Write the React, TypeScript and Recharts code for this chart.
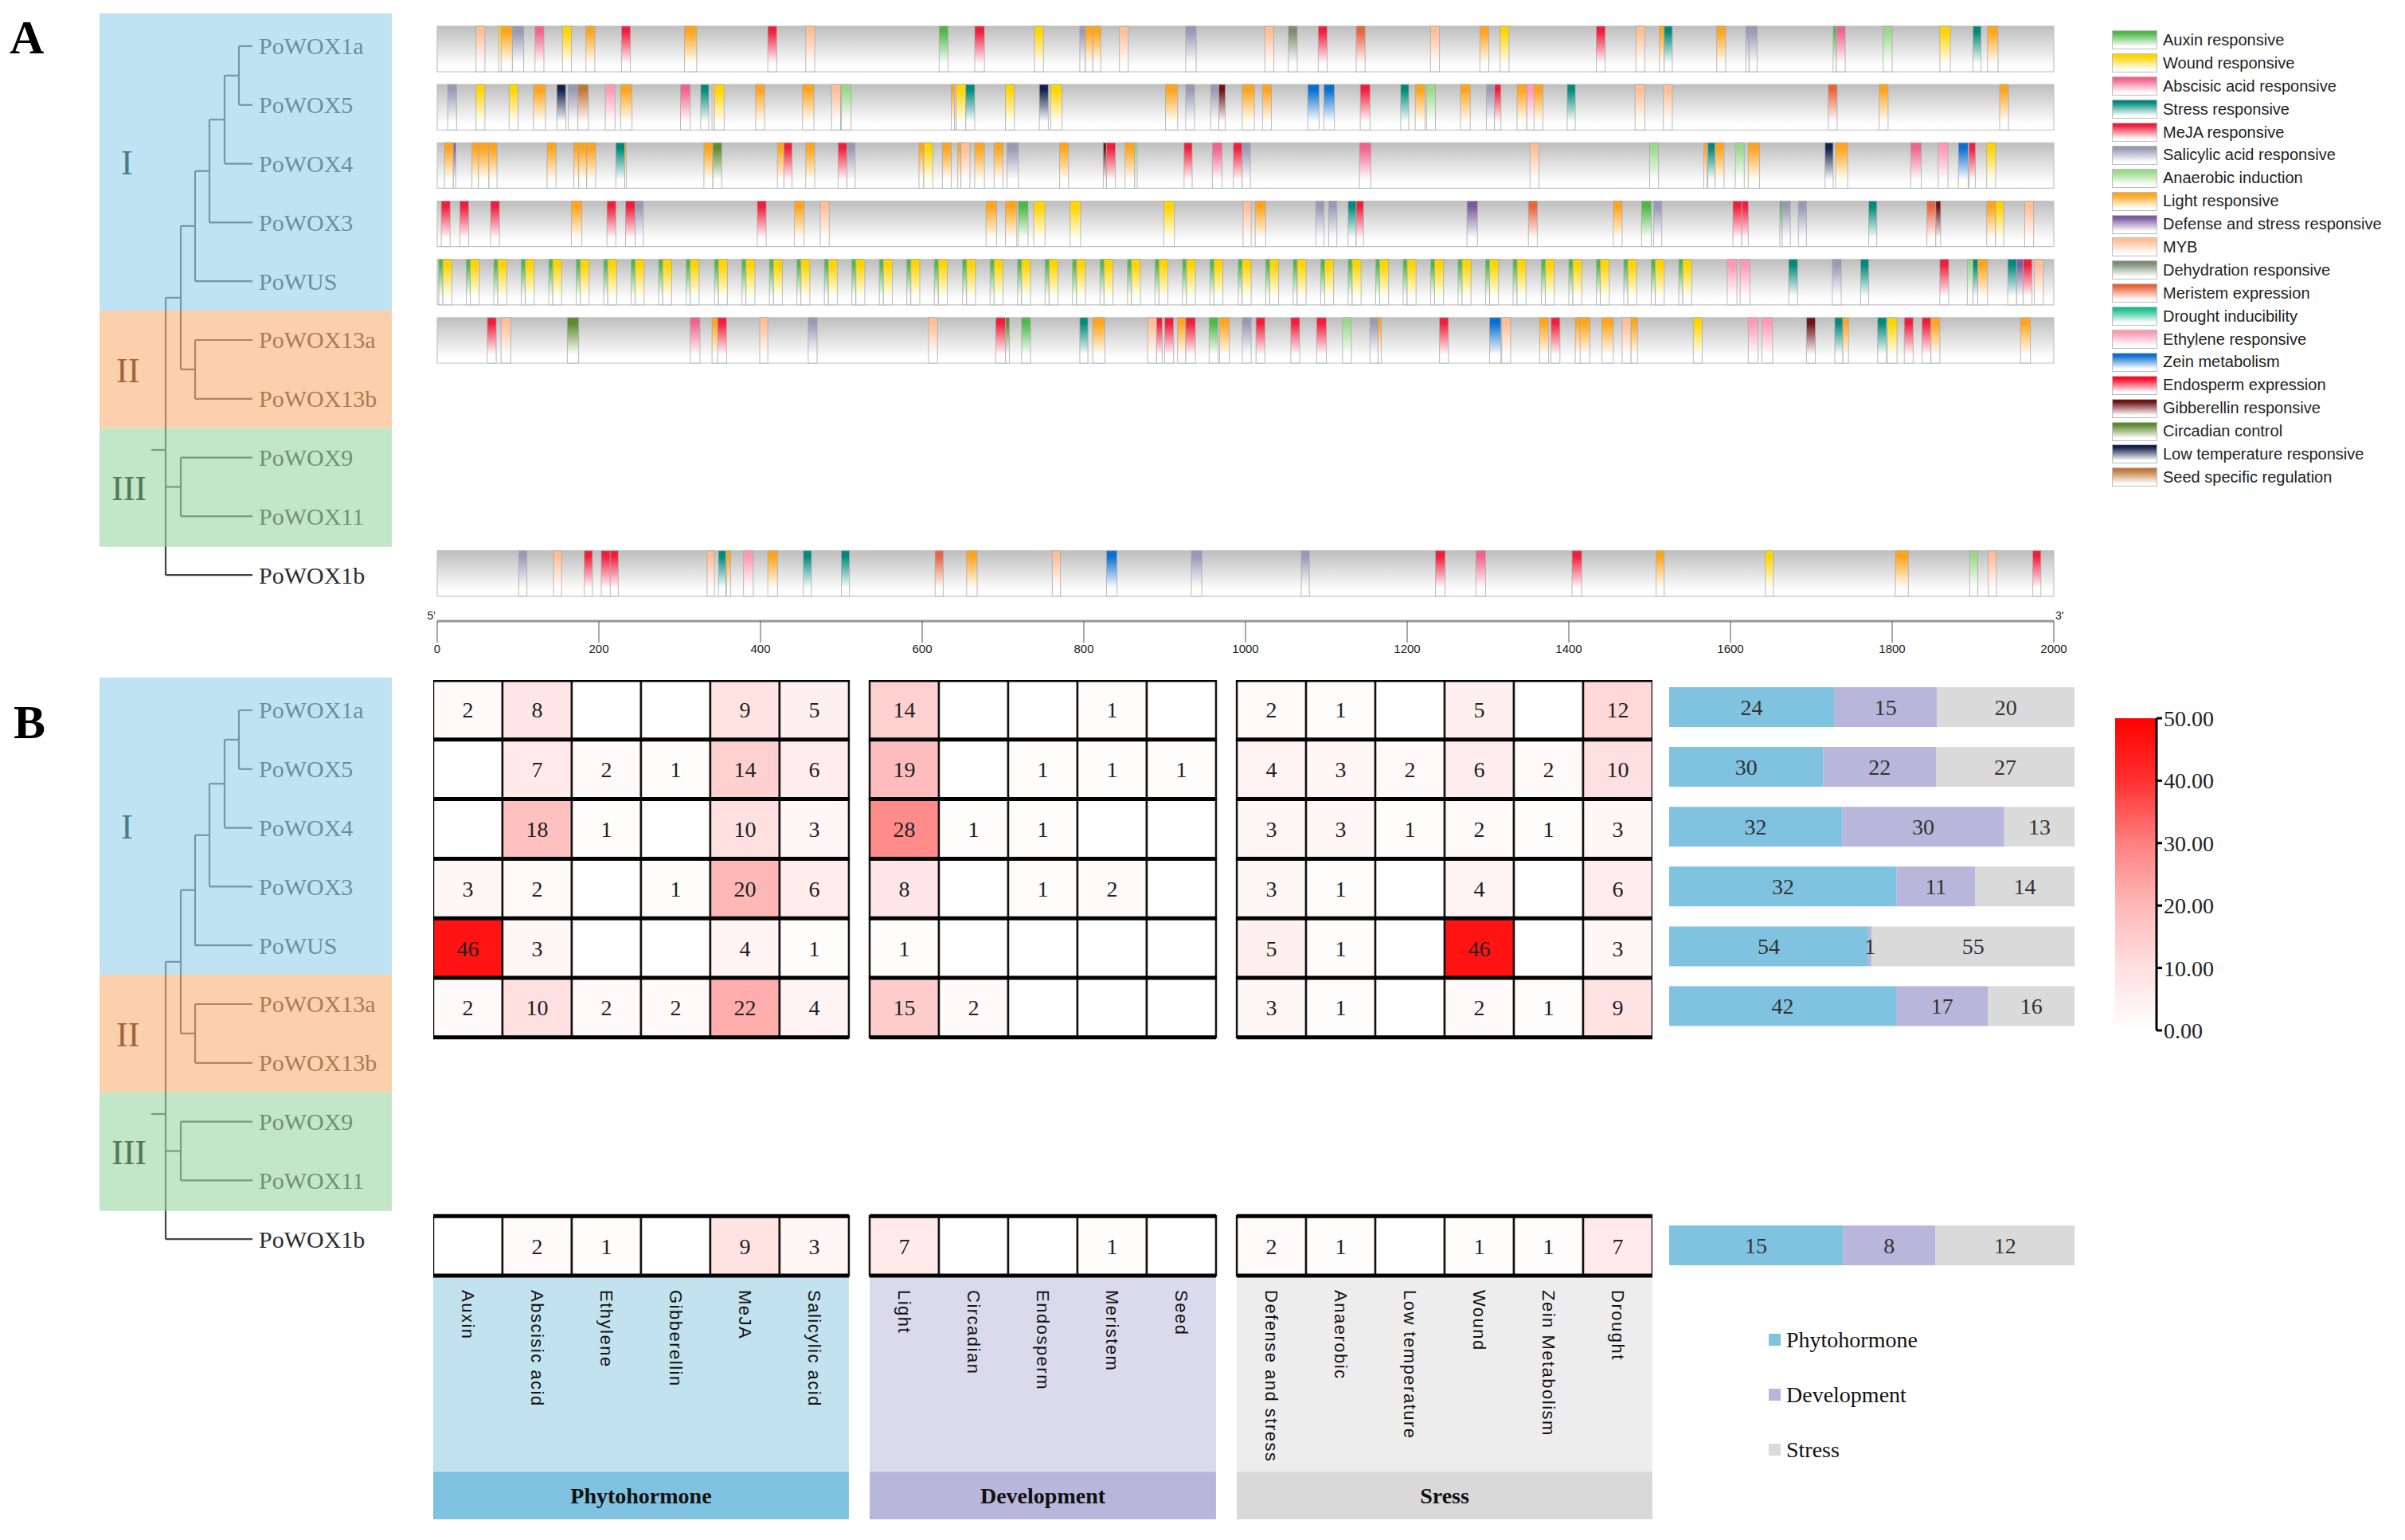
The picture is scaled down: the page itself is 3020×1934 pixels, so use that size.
import React from 'react';
import {
  ComposedChart,
  BarChart,
  Bar,
  XAxis,
  YAxis,
  Scatter,
  ReferenceArea,
  ReferenceLine,
  ReferenceDot,
  LabelList,
  Legend,
} from 'recharts';

const SERIF = '"Liberation Serif", "Times New Roman", serif';
const SANS = '"Liberation Sans", Arial, sans-serif';

// genes in tree order (top to bottom)
const genes = [
  'PoWOX1a', 'PoWOX5', 'PoWOX4', 'PoWOX3', 'PoWUS',
  'PoWOX13a', 'PoWOX13b', 'PoWOX9', 'PoWOX11', 'PoWOX1b',
];

// internal nodes of the tree: depth in px, pos in leaf units
const treeNodes = [
  { id: 'root', parent: '', depth: 208, pos: 6.87 },
  { id: 'c1', parent: 'root', depth: 227, pos: 4.28 },
  { id: 'cI', parent: 'c1', depth: 245, pos: 3.06 },
  { id: 'c3', parent: 'cI', depth: 263, pos: 2.125 },
  { id: 'c4', parent: 'c3', depth: 282, pos: 1.25 },
  { id: 'c5', parent: 'c4', depth: 300, pos: 0.5 },
  { id: 'cII', parent: 'c1', depth: 245, pos: 5.5 },
  { id: 'cIII', parent: 'root', depth: 227, pos: 7.5 },
];
const leafParents = ['c5', 'c5', 'c4', 'c3', 'cI', 'cII', 'cII', 'cIII', 'cIII', 'root'];
const TIP = 317;
const STEM = 190;

const clades = [
  { name: 'I', first: 'PoWOX1a', last: 'PoWUS' },
  { name: 'II', first: 'PoWOX13a', last: 'PoWOX13b' },
  { name: 'III', first: 'PoWOX9', last: 'PoWOX11' },
];
const cladeFill = ['#94D0E9', '#FAB175', '#9BD4A3'];
const cladeText = ['#4A7B8B', '#A4643A', '#4F7B56'];
const cladeOffset = [27, 21, 15];

// cis-acting element legend
const elementTypes = [
  { key: 'auxin', name: 'Auxin responsive', color: '#4DB848' },
  { key: 'wound', name: 'Wound responsive', color: '#FFD400' },
  { key: 'aba', name: 'Abscisic acid responsive', color: '#F0648C' },
  { key: 'stress', name: 'Stress responsive', color: '#00897B' },
  { key: 'meja', name: 'MeJA responsive', color: '#F01E3C' },
  { key: 'sa', name: 'Salicylic acid responsive', color: '#9A98B5' },
  { key: 'anaerobic', name: 'Anaerobic induction', color: '#9AD98C' },
  { key: 'light', name: 'Light responsive', color: '#FFA41C' },
  { key: 'defense', name: 'Defense and stress responsive', color: '#7A5C9E' },
  { key: 'myb', name: 'MYB', color: '#FFBE96' },
  { key: 'dehydration', name: 'Dehydration responsive', color: '#7B8B72' },
  { key: 'meristem', name: 'Meristem expression', color: '#E8643C' },
  { key: 'drought', name: 'Drought inducibility', color: '#1DBE8E' },
  { key: 'ethylene', name: 'Ethylene responsive', color: '#FF9AB4' },
  { key: 'zein', name: 'Zein metabolism', color: '#0A6FD0' },
  { key: 'endosperm', name: 'Endosperm expression', color: '#FF0A28' },
  { key: 'gibberellin', name: 'Gibberellin responsive', color: '#6E1414' },
  { key: 'circadian', name: 'Circadian control', color: '#5E8A2E' },
  { key: 'lowtemp', name: 'Low temperature responsive', color: '#14214A' },
  { key: 'seed', name: 'Seed specific regulation', color: '#C0783A' },
];

// [start bp, type, length bp]
const wox1aElements = [
  [48, 'myb', 11], [76, 'wound', 4], [79, 'light', 14], [93, 'sa', 14], [121, 'aba', 11], [155, 'wound', 11],
  [184, 'light', 11], [228, 'meja', 11], [306, 'light', 15], [409, 'meja', 11], [456, 'myb', 11], [621, 'auxin', 11],
  [665, 'meja', 12], [739, 'wound', 11], [795, 'sa', 7], [802, 'light', 9], [811, 'light', 10], [844, 'myb', 11],
  [926, 'sa', 13], [1024, 'myb', 11], [1053, 'dehydration', 11], [1090, 'meja', 11], [1137, 'meristem', 11],
  [1229, 'myb', 11], [1290, 'light', 11], [1315, 'wound', 11], [1434, 'meja', 11], [1483, 'myb', 11],
  [1512, 'light', 6], [1518, 'stress', 10], [1583, 'light', 11], [1619, 'sa', 4], [1623, 'sa', 10],
  [1727, 'auxin', 4], [1731, 'aba', 11], [1789, 'anaerobic', 11], [1859, 'wound', 13], [1900, 'stress', 10],
  [1918, 'light', 13],
];
const wox5Elements = [
  [13, 'sa', 11], [48, 'wound', 11], [89, 'wound', 11], [119, 'light', 15], [148, 'lowtemp', 11], [162, 'sa', 12],
  [174, 'seed', 13], [208, 'ethylene', 12], [227, 'light', 14], [301, 'aba', 12], [326, 'stress', 10], [340, 'myb', 3],
  [343, 'wound', 12], [394, 'light', 11], [452, 'light', 14], [488, 'myb', 11], [500, 'anaerobic', 12],
  [636, 'light', 4], [640, 'myb', 2], [642, 'wound', 12], [654, 'stress', 11], [703, 'wound', 11],
  [745, 'lowtemp', 11], [759, 'wound', 14], [901, 'light', 15], [926, 'sa', 11], [957, 'sa', 10],
  [967, 'gibberellin', 8], [996, 'light', 15], [1021, 'light', 11], [1077, 'zein', 14], [1097, 'zein', 13],
  [1142, 'meja', 12], [1192, 'stress', 10], [1210, 'light', 12], [1224, 'anaerobic', 11], [1266, 'light', 12],
  [1298, 'sa', 10], [1308, 'meja', 8], [1336, 'light', 12], [1348, 'ethylene', 11], [1357, 'light', 11],
  [1398, 'stress', 10], [1482, 'myb', 12], [1517, 'myb', 11], [1721, 'meristem', 11], [1784, 'light', 11],
  [1933, 'light', 11],
];
const wox4Elements = [
  [9, 'light', 11], [20, 'defense', 3], [43, 'light', 8], [51, 'light', 13], [64, 'light', 10], [136, 'light', 11],
  [169, 'light', 6], [175, 'light', 10], [185, 'light', 11], [221, 'stress', 11], [232, 'light', 2],
  [330, 'light', 11], [341, 'circadian', 11], [421, 'light', 8], [429, 'meja', 10], [456, 'light', 11],
  [496, 'meja', 11], [507, 'sa', 10], [596, 'light', 6], [602, 'wound', 11], [625, 'light', 11], [644, 'light', 4],
  [648, 'myb', 11], [665, 'light', 12], [689, 'light', 11], [705, 'sa', 14], [770, 'light', 11],
  [824, 'gibberellin', 4], [828, 'meja', 11], [851, 'light', 12], [863, 'anaerobic', 3], [924, 'meja', 10],
  [959, 'aba', 12], [985, 'meja', 11], [996, 'sa', 10], [1141, 'aba', 14], [1352, 'myb', 11],
  [1500, 'anaerobic', 11], [1567, 'light', 4], [1572, 'stress', 9], [1581, 'light', 11], [1606, 'anaerobic', 11],
  [1622, 'light', 14], [1717, 'lowtemp', 10], [1730, 'light', 15], [1823, 'aba', 13], [1857, 'ethylene', 12],
  [1882, 'zein', 12], [1895, 'meja', 8], [1917, 'wound', 11],
];
const wox3Elements = [
  [5, 'meja', 11], [28, 'meja', 11], [66, 'meja', 11], [166, 'light', 13], [210, 'meja', 11], [233, 'meja', 12],
  [245, 'sa', 10], [396, 'meja', 11], [442, 'light', 12], [474, 'myb', 11], [679, 'light', 13], [703, 'light', 14],
  [719, 'auxin', 12], [738, 'wound', 14], [783, 'wound', 13], [899, 'wound', 13], [997, 'myb', 10],
  [1012, 'light', 13], [1087, 'sa', 10], [1103, 'sa', 10], [1127, 'stress', 10], [1137, 'meja', 9],
  [1274, 'defense', 13], [1350, 'meristem', 11], [1455, 'light', 11], [1490, 'auxin', 12], [1505, 'sa', 10],
  [1603, 'meja', 11], [1614, 'meja', 8], [1661, 'auxin', 3], [1664, 'sa', 10], [1684, 'sa', 10],
  [1771, 'stress', 10], [1843, 'meristem', 11], [1854, 'gibberellin', 6], [1917, 'light', 11], [1928, 'wound', 10],
  [1964, 'myb', 11],
];
// PoWUS: repeated auxin + wound motif pairs, then the 3' end elements
const wusPairStarts = [
  2, 36, 70, 104, 138, 172, 206, 240, 274, 308, 343, 377, 411, 445, 479, 513, 547, 581, 615, 650,
  684, 718, 752, 786, 820, 854, 888, 922, 956, 991, 1025, 1059, 1093, 1127, 1161, 1195, 1229, 1263,
  1297, 1331, 1366, 1400, 1434, 1468, 1502, 1536,
];
const wusTailElements = [
  [1596, 'ethylene', 12], [1612, 'ethylene', 12], [1672, 'stress', 11], [1726, 'sa', 11], [1761, 'stress', 10],
  [1859, 'meja', 11], [1893, 'anaerobic', 7], [1900, 'stress', 6], [1906, 'light', 12], [1943, 'stress', 11],
  [1954, 'defense', 8], [1962, 'meja', 11], [1976, 'myb', 11],
];
const wox13aElements = [
  [62, 'meja', 11], [79, 'myb', 12], [161, 'circadian', 14], [313, 'aba', 12], [340, 'light', 8], [347, 'meja', 11],
  [399, 'myb', 10], [459, 'sa', 11], [608, 'myb', 11], [691, 'meja', 12], [703, 'circadian', 5], [723, 'auxin', 11],
  [795, 'stress', 10], [811, 'light', 15], [879, 'myb', 11], [890, 'meja', 7], [900, 'meja', 11], [916, 'light', 10],
  [926, 'meja', 12], [955, 'auxin', 11], [968, 'light', 12], [996, 'sa', 11], [1013, 'meja', 11], [1056, 'meja', 11],
  [1088, 'meja', 12], [1120, 'anaerobic', 11], [1154, 'sa', 10], [1164, 'light', 4], [1240, 'meja', 11],
  [1302, 'zein', 14], [1317, 'myb', 11], [1364, 'light', 11], [1378, 'meja', 11], [1408, 'light', 7],
  [1414, 'light', 12], [1441, 'light', 14], [1466, 'myb', 11], [1477, 'light', 8], [1554, 'wound', 11],
  [1622, 'ethylene', 12], [1639, 'ethylene', 13], [1694, 'gibberellin', 11], [1729, 'stress', 10],
  [1739, 'light', 7], [1782, 'stress', 11], [1794, 'wound', 12], [1815, 'meja', 11], [1837, 'meja', 11],
  [1848, 'light', 11], [1959, 'light', 12],
];
const wox1bElements = [
  [101, 'sa', 10], [144, 'myb', 10], [182, 'meja', 10], [203, 'meja', 12], [214, 'meja', 10], [334, 'myb', 9],
  [348, 'stress', 9], [358, 'light', 5], [379, 'ethylene', 12], [409, 'light', 12], [453, 'stress', 10],
  [500, 'stress', 10], [616, 'meristem', 10], [655, 'light', 13], [761, 'myb', 10], [828, 'zein', 13],
  [933, 'sa', 13], [1069, 'sa', 10], [1235, 'meja', 12], [1285, 'aba', 12], [1404, 'meja', 12],
  [1508, 'light', 10], [1643, 'wound', 10], [1804, 'light', 16], [1896, 'anaerobic', 10], [1919, 'myb', 10],
  [1974, 'meja', 10],
];

const wusElements = [
  ...wusPairStarts.flatMap((p) => [[p, 'auxin', 5], [p + 5, 'wound', 11]]),
  ...wusTailElements,
];

const promoterRows = [
  { gene: 'PoWOX1a', elements: wox1aElements },
  { gene: 'PoWOX5', elements: wox5Elements },
  { gene: 'PoWOX4', elements: wox4Elements },
  { gene: 'PoWOX3', elements: wox3Elements },
  { gene: 'PoWUS', elements: wusElements },
  { gene: 'PoWOX13a', elements: wox13aElements },
  { gene: 'PoWOX1b', elements: wox1bElements },
];
const PROMOTER_LEN = 2000;
const promoterTicks = [0, 200, 400, 600, 800, 1000, 1200, 1400, 1600, 1800, 2000];

// heatmap counts
const heatGenes = ['PoWOX1a', 'PoWOX5', 'PoWOX4', 'PoWOX3', 'PoWUS', 'PoWOX13a', 'PoWOX1b'];
const phytoCols = ['Auxin', 'Abscisic acid', 'Ethylene', 'Gibberellin', 'MeJA', 'Salicylic acid'];
const devCols = ['Light', 'Circadian', 'Endosperm', 'Meristem', 'Seed'];
const stressCols = ['Defense and stress', 'Anaerobic', 'Low temperature', 'Wound', 'Zein Metabolism', 'Drought'];
const phytoCounts = [
  [2, 8, 0, 0, 9, 5], [0, 7, 2, 1, 14, 6], [0, 18, 1, 0, 10, 3], [3, 2, 0, 1, 20, 6],
  [46, 3, 0, 0, 4, 1], [2, 10, 2, 2, 22, 4], [0, 2, 1, 0, 9, 3],
];
const devCounts = [
  [14, 0, 0, 1, 0], [19, 0, 1, 1, 1], [28, 1, 1, 0, 0], [8, 0, 1, 2, 0],
  [1, 0, 0, 0, 0], [15, 2, 0, 0, 0], [7, 0, 0, 1, 0],
];
const stressCounts = [
  [2, 1, 0, 5, 0, 12], [4, 3, 2, 6, 2, 10], [3, 3, 1, 2, 1, 3], [3, 1, 0, 4, 0, 6],
  [5, 1, 0, 46, 0, 3], [3, 1, 0, 2, 1, 9], [2, 1, 0, 1, 1, 7],
];
const scaleTicks = [0, 10, 20, 30, 40, 50];
const legendOrder = ['Phytohormone', 'Development', 'Stress'];

const heatGroups = [
  { title: 'Phytohormone', cols: phytoCols, counts: phytoCounts },
  { title: 'Development', cols: devCols, counts: devCounts },
  { title: 'Sress', cols: stressCols, counts: stressCounts },
];
const groupStart = [0, 6.3, 11.6];
const groupLight = ['#C2E2EF', '#DBDAEC', '#EDEDED'];
const groupDark = ['#7FC3E0', '#B8B6DA', '#D9D9D9'];

// white -> red colour ramp (green/blue channel)
const rampStops = [[0, 255], [10, 224], [20, 184], [30, 128], [40, 48], [50, 0]];
const heatColor = (v: number) => {
  for (let i = 1; i < rampStops.length; i++) {
    const [v0, c0] = rampStops[i - 1];
    const [v1, c1] = rampStops[i];
    if (v <= v1) {
      const c = Math.round(c0 + ((v - v0) / (v1 - v0)) * (c1 - c0));
      return `rgb(255,${c},${c})`;
    }
  }
  return 'rgb(255,0,0)';
};

const sum = (a: number[]) => a.reduce((s, v) => s + v, 0);

const stackData = genes.map((g) => {
  const i = heatGenes.indexOf(g);
  if (i < 0) return { gene: g };
  return {
    gene: g,
    phyto: sum(phytoCounts[i]),
    dev: sum(devCounts[i]),
    stress: sum(stressCounts[i]),
  };
});

// ---------- tree ----------
const TREE_DOMAIN = [-0.745, 9.783];

const LeafLabel = (props: any) => (
  <text
    x={props.cx + 8}
    y={props.cy}
    dominantBaseline="central"
    fontSize={30}
    fontFamily={SERIF}
    fill="#2c2c2c"
  >
    {props.payload.gene}
  </text>
);

const Tree = ({ top }: { top: number }) => {
  const byId: Record<string, any> = {};
  treeNodes.forEach((n) => (byId[n.id] = n));
  const leaves = genes.map((g, i) => ({ gene: g, x: TIP, y: i, parent: leafParents[i] }));
  const segs: any[] = [];
  treeNodes.forEach((n) => {
    if (n.parent) segs.push([{ x: byId[n.parent].depth, y: n.pos }, { x: n.depth, y: n.pos }]);
    const kids = [
      ...treeNodes.filter((c) => c.parent === n.id).map((c) => c.pos),
      ...leaves.filter((l) => l.parent === n.id).map((l) => l.y),
    ];
    segs.push([{ x: n.depth, y: Math.min(...kids) }, { x: n.depth, y: Math.max(...kids) }]);
  });
  leaves.forEach((l) => segs.push([{ x: byId[l.parent].depth, y: l.y }, { x: TIP, y: l.y }]));
  segs.push([{ x: STEM, y: byId.root.pos }, { x: byId.root.depth, y: byId.root.pos }]);

  const axes = (
    <>
      <XAxis type="number" dataKey="x" domain={[0, 540]} hide allowDataOverflow />
      <YAxis type="number" dataKey="y" domain={TREE_DOMAIN} reversed hide allowDataOverflow />
    </>
  );

  return (
    <>
      <div style={{ position: 'absolute', left: 0, top }}>
        <ComposedChart width={540} height={777} margin={{ top: 0, right: 0, bottom: 0, left: 0 }}>
          {axes}
          {segs.map((s, i) => (
            <ReferenceLine key={i} segment={s} stroke="#444" strokeWidth={2.2} ifOverflow="visible" />
          ))}
          <Scatter data={leaves} shape={LeafLabel} isAnimationActive={false} />
        </ComposedChart>
      </div>
      <div style={{ position: 'absolute', left: 0, top }}>
        <ComposedChart width={540} height={777} margin={{ top: 0, right: 0, bottom: 0, left: 0 }}>
          {axes}
          {clades.map((c, ci) => (
            <ReferenceArea
              key={c.name}
              x1={125}
              x2={492}
              y1={genes.indexOf(c.first) - 0.5 - (ci === 0 ? 0.06 : 0)}
              y2={genes.indexOf(c.last) + 0.5 + (ci === clades.length - 1 ? 0.02 : 0)}
              fill={cladeFill[ci]}
              fillOpacity={0.6}
              stroke="none"
              ifOverflow="visible"
              label={{
                value: c.name,
                position: 'insideLeft',
                offset: cladeOffset[ci],
                fontSize: 44,
                fontFamily: SERIF,
                fill: cladeText[ci],
              }}
            />
          ))}
        </ComposedChart>
      </div>
    </>
  );
};

// ---------- legends ----------
const ElementLegend = () => (
  <div>
    {elementTypes.map((t) => (
      <div key={t.key} style={{ display: 'flex', alignItems: 'center', height: 28.9 }}>
        <div
          style={{
            width: 55,
            height: 22,
            flex: 'none',
            border: '1px solid #BDBDBD',
            background: `linear-gradient(to bottom, ${t.color} 0%, ${t.color} 12%, #ffffff 88%)`,
          }}
        />
        <span style={{ marginLeft: 7, fontFamily: SANS, fontSize: 20, color: '#222', whiteSpace: 'nowrap' }}>
          {t.name}
        </span>
      </div>
    ))}
  </div>
);

const StackLegend = (props: any) => {
  const items = (props.payload || [])
    .slice()
    .sort((a: any, b: any) => legendOrder.indexOf(a.value) - legendOrder.indexOf(b.value));
  return (
    <div>
      {items.map((p: any) => (
        <div key={p.value} style={{ display: 'flex', alignItems: 'center', height: 69 }}>
          <span style={{ width: 15, height: 15, background: p.color, display: 'inline-block', flex: 'none' }} />
          <span style={{ marginLeft: 7, fontFamily: SERIF, fontSize: 28, color: '#111', whiteSpace: 'nowrap' }}>
            {p.value}
          </span>
        </div>
      ))}
    </div>
  );
};

const ColumnLabel = (props: any) => (
  <text
    x={props.cx}
    y={props.cy}
    transform={`rotate(90 ${props.cx} ${props.cy})`}
    textAnchor="start"
    dominantBaseline="central"
    fontSize={22}
    letterSpacing={1.5}
    fontFamily={SANS}
    fill="#111"
  >
    {props.payload.name}
  </text>
);

const ROW_H = 0.78;

const App = () => {
  const rowOf = (g: string) => genes.indexOf(g);

  const colLabels: any[] = [];
  heatGroups.forEach((grp, gi) =>
    grp.cols.forEach((c, j) => colLabels.push({ x: groupStart[gi] + j + 0.5, y: 10.24, name: c })),
  );

  const heatRows = heatGenes.map(rowOf);
  const hLines: number[] = [];
  heatRows.forEach((r) => {
    if (!hLines.includes(r)) hLines.push(r);
    if (!hLines.includes(r + 1)) hLines.push(r + 1);
  });

  return (
    <div
      style={{
        position: 'absolute',
        left: 0,
        top: 0,
        width: 3020,
        height: 1934,
        background: '#fff',
        overflow: 'hidden',
      }}
    >
      <div style={{ position: 'absolute', left: 12, top: 17, fontFamily: SERIF, fontWeight: 'bold', fontSize: 60, lineHeight: '60px' }}>
        A
      </div>
      <div style={{ position: 'absolute', left: 17, top: 877, fontFamily: SERIF, fontWeight: 'bold', fontSize: 60, lineHeight: '60px' }}>
        B
      </div>

      <Tree top={3} />
      <Tree top={837} />

      {/* A: promoter elements */}
      <div style={{ position: 'absolute', left: 0, top: 0 }}>
        <ComposedChart width={3020} height={840} margin={{ top: 3, right: 441, bottom: 0, left: 549 }}>
          <defs>
            <linearGradient id="pbar" x1="0" y1="0" x2="0" y2="1">
              <stop offset="0" stopColor="#BEBEBE" />
              <stop offset="0.88" stopColor="#FFFFFF" />
            </linearGradient>
            {elementTypes.map((t) => (
              <linearGradient key={t.key} id={`el-${t.key}`} x1="0" y1="0" x2="0" y2="1">
                <stop offset="0" stopColor={t.color} />
                <stop offset="0.12" stopColor={t.color} />
                <stop offset="0.82" stopColor="#FFFFFF" />
              </linearGradient>
            ))}
          </defs>
          <XAxis
            type="number"
            dataKey="x"
            domain={[0, PROMOTER_LEN]}
            ticks={promoterTicks}
            interval={0}
            allowDataOverflow
            height={60}
            tickSize={27}
            axisLine={{ stroke: '#9a9a9a', strokeWidth: 3 }}
            tickLine={{ stroke: '#555' }}
            tick={{ fontSize: 15, fill: '#222', fontFamily: SANS }}
          />
          <YAxis type="number" dataKey="y" domain={[-0.799, 9.816]} reversed hide allowDataOverflow />
          {promoterRows.map((r) => (
            <ReferenceArea
              key={`bg-${r.gene}`}
              x1={0}
              x2={PROMOTER_LEN}
              y1={rowOf(r.gene) - ROW_H / 2}
              y2={rowOf(r.gene) + ROW_H / 2}
              fill="url(#pbar)"
              fillOpacity={1}
              stroke="#C4C4C4"
              strokeWidth={1.2}
              ifOverflow="visible"
            />
          ))}
          {promoterRows.flatMap((r) =>
            r.elements.map((e: any, i: number) => (
              <ReferenceArea
                key={`${r.gene}-${i}`}
                x1={e[0]}
                x2={e[0] + e[2]}
                y1={rowOf(r.gene) - ROW_H / 2}
                y2={rowOf(r.gene) + ROW_H / 2}
                fill={`url(#el-${e[1]})`}
                fillOpacity={1}
                stroke="#A8A8A8"
                strokeWidth={0.8}
                ifOverflow="visible"
              />
            )),
          )}
          <ReferenceDot
            x={0}
            y={9.72}
            r={0}
            fill="none"
            stroke="none"
            ifOverflow="visible"
            label={{ value: "5'", position: 'left', offset: 2, fontSize: 14, fill: '#222', fontFamily: SANS }}
          />
          <ReferenceDot
            x={PROMOTER_LEN}
            y={9.72}
            r={0}
            fill="none"
            stroke="none"
            ifOverflow="visible"
            label={{ value: "3'", position: 'right', offset: 2, fontSize: 14, fill: '#222', fontFamily: SANS }}
          />
          <Legend
            layout="vertical"
            align="right"
            verticalAlign="top"
            content={() => <ElementLegend />}
            wrapperStyle={{ left: 2652, top: 36, width: 0, right: 'auto', bottom: 'auto' }}
          />
        </ComposedChart>
      </div>

      {/* B: heatmap */}
      <div style={{ position: 'absolute', left: 544, top: 854 }}>
        <ComposedChart width={1531} height={1054} margin={{ top: 0, right: 0, bottom: 0, left: 0 }}>
          <XAxis type="number" dataKey="x" domain={[0, 17.6]} hide allowDataOverflow />
          <YAxis type="number" dataKey="y" domain={[0, 14.09]} reversed hide allowDataOverflow />
          {heatGroups.map((grp, gi) => (
            <ReferenceArea
              key={`light-${gi}`}
              x1={groupStart[gi]}
              x2={groupStart[gi] + grp.cols.length}
              y1={10}
              y2={13.29}
              fill={groupLight[gi]}
              fillOpacity={1}
              stroke="none"
              ifOverflow="visible"
            />
          ))}
          {heatGroups.map((grp, gi) => (
            <ReferenceArea
              key={`dark-${gi}`}
              x1={groupStart[gi]}
              x2={groupStart[gi] + grp.cols.length}
              y1={13.29}
              y2={14.09}
              fill={groupDark[gi]}
              fillOpacity={1}
              stroke="none"
              ifOverflow="visible"
              label={{
                value: grp.title,
                position: 'center',
                fontSize: 28,
                fontWeight: 'bold',
                fontFamily: SERIF,
                fill: '#111',
              }}
            />
          ))}
          {heatGroups.flatMap((grp, gi) =>
            grp.counts.flatMap((row, ri) =>
              row.map((v, j) => (
                <ReferenceArea
                  key={`c-${gi}-${ri}-${j}`}
                  x1={groupStart[gi] + j}
                  x2={groupStart[gi] + j + 1}
                  y1={heatRows[ri]}
                  y2={heatRows[ri] + 1}
                  fill={heatColor(v)}
                  fillOpacity={1}
                  stroke="#111"
                  strokeWidth={2.5}
                  ifOverflow="visible"
                  label={
                    v
                      ? { value: String(v), position: 'center', fontSize: 28, fontFamily: SERIF, fill: '#222' }
                      : undefined
                  }
                />
              )),
            ),
          )}
          {heatGroups.flatMap((grp, gi) =>
            hLines.map((y) => (
              <ReferenceLine
                key={`h-${gi}-${y}`}
                segment={[
                  { x: groupStart[gi], y },
                  { x: groupStart[gi] + grp.cols.length, y },
                ]}
                stroke="#000"
                strokeWidth={5}
                ifOverflow="visible"
              />
            )),
          )}
          <Scatter data={colLabels} shape={ColumnLabel} isAnimationActive={false} />
        </ComposedChart>
      </div>

      {/* B: stacked proportions */}
      <div style={{ position: 'absolute', left: 2096, top: 850 }}>
        <BarChart
          width={509}
          height={751}
          data={stackData}
          layout="vertical"
          stackOffset="expand"
          barSize={50}
          margin={{ top: 0, right: 0, bottom: 0, left: 0 }}
        >
          <XAxis type="number" domain={[0, 1]} hide />
          <YAxis type="category" dataKey="gene" hide />
          <Bar dataKey="phyto" name="Phytohormone" stackId="s" fill="#7FC3E0" isAnimationActive={false}>
            <LabelList dataKey="phyto" position="center" fontSize={28} fontFamily={SERIF} fill="#333" formatter={(v: any) => (v ? v : '')} />
          </Bar>
          <Bar dataKey="dev" name="Development" stackId="s" fill="#B8B6DA" isAnimationActive={false}>
            <LabelList dataKey="dev" position="center" fontSize={28} fontFamily={SERIF} fill="#333" formatter={(v: any) => (v ? v : '')} />
          </Bar>
          <Bar dataKey="stress" name="Stress" stackId="s" fill="#DADADA" isAnimationActive={false}>
            <LabelList dataKey="stress" position="center" fontSize={28} fontFamily={SERIF} fill="#333" formatter={(v: any) => (v ? v : '')} />
          </Bar>
          <Legend
            layout="vertical"
            align="right"
            verticalAlign="top"
            content={StackLegend}
            wrapperStyle={{ left: 125, top: 798, width: 0, right: 'auto', bottom: 'auto' }}
          />
        </BarChart>
      </div>

      {/* B: colour scale */}
      <div style={{ position: 'absolute', left: 2656, top: 872 }}>
        <ComposedChart width={170} height={450} margin={{ top: 30, right: 0, bottom: 28, left: 0 }}>
          <defs>
            <linearGradient id="heatScale" x1="0" y1="0" x2="0" y2="1">
              {rampStops
                .slice()
                .reverse()
                .map(([v, c]) => (
                  <stop key={v} offset={1 - v / 50} stopColor={`rgb(255,${c},${c})`} />
                ))}
            </linearGradient>
          </defs>
          <XAxis type="number" dataKey="x" domain={[0, 1]} hide allowDataOverflow />
          <YAxis
            type="number"
            dataKey="y"
            orientation="right"
            width={118}
            domain={[0, 50]}
            ticks={scaleTicks}
            interval={0}
            allowDataOverflow
            tickFormatter={(v: number) => v.toFixed(2)}
            axisLine={{ stroke: '#000', strokeWidth: 3 }}
            tickLine={{ stroke: '#000', strokeWidth: 3 }}
            tickSize={7}
            tick={{ fontSize: 28, fontFamily: SERIF, fill: '#222' }}
          />
          <ReferenceArea x1={0} x2={1} y1={0} y2={50} fill="url(#heatScale)" fillOpacity={1} stroke="none" ifOverflow="visible" />
        </ComposedChart>
      </div>
    </div>
  );
};

export default App;
